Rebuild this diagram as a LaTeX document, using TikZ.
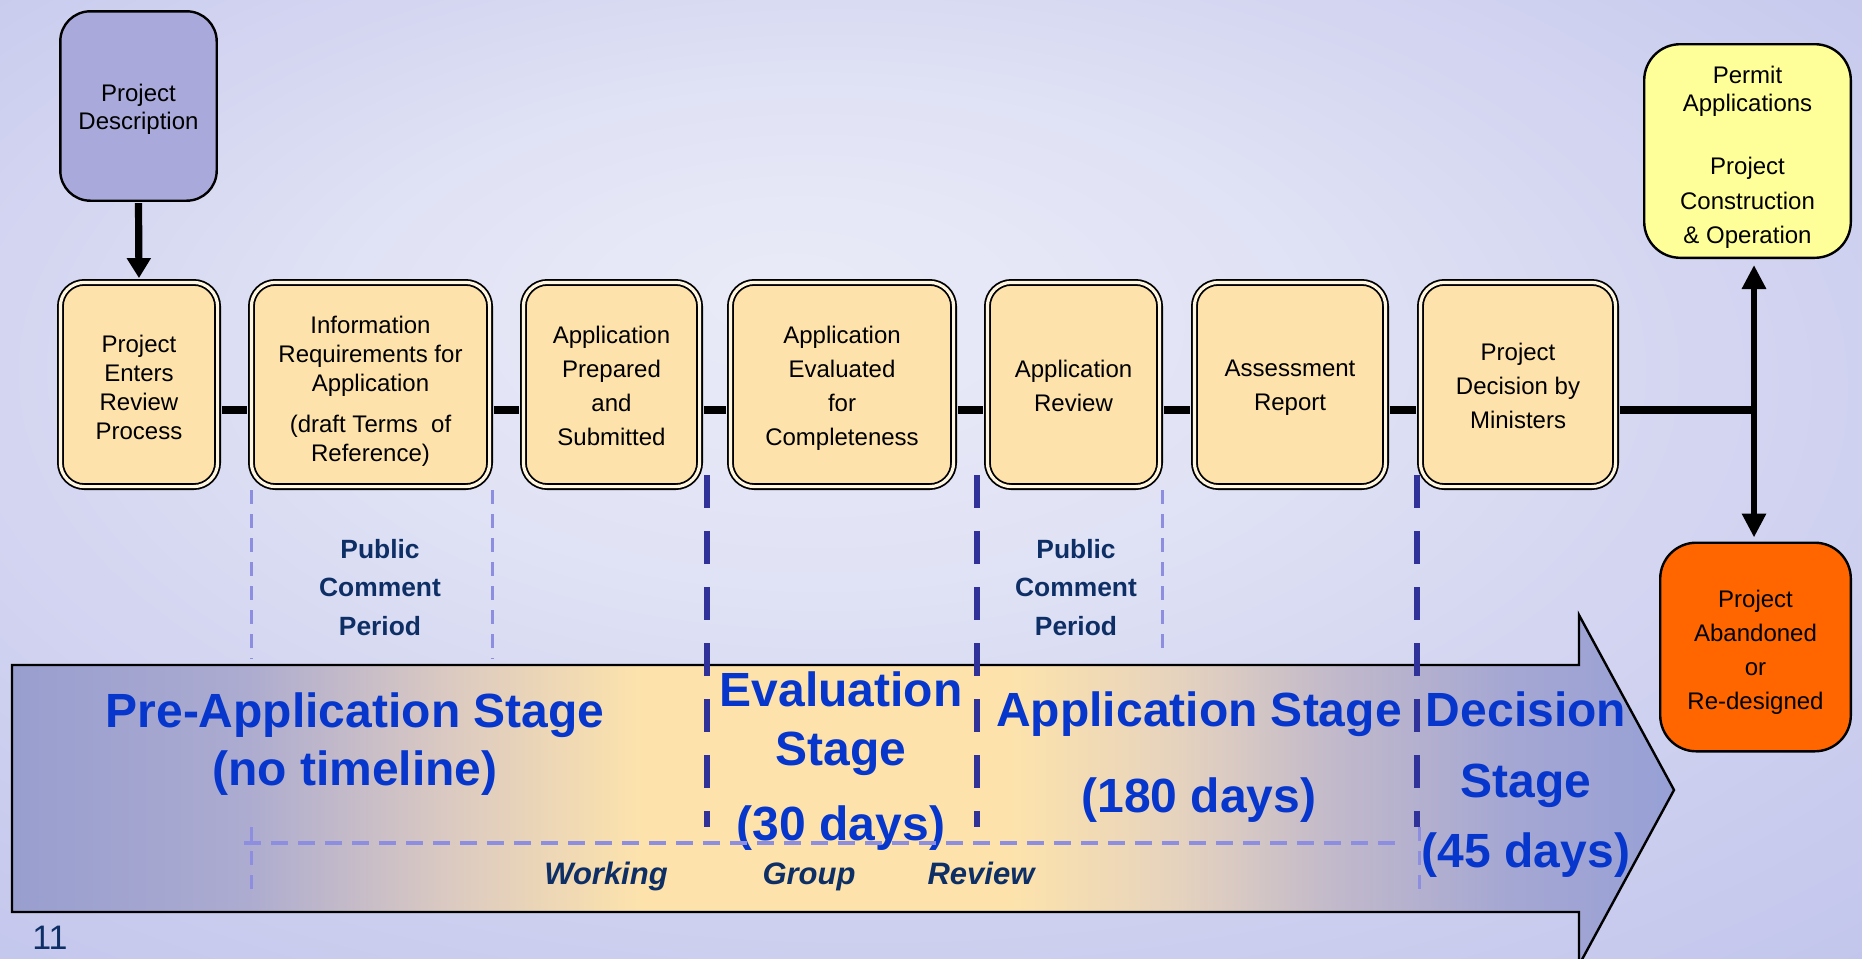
\documentclass[tikz,border=0pt]{standalone}
\usepackage{fontspec}
\setmainfont{Liberation Sans}
\usetikzlibrary{arrows.meta}

% slide background
\definecolor{bgA}{HTML}{EAEBF8}
\definecolor{bgB}{HTML}{E1E3F5}
\definecolor{bgC}{HTML}{D0D2F0}
\definecolor{bgD}{HTML}{C3C6EC}
% stage bar
\definecolor{barL}{HTML}{989ECF}
\definecolor{barB}{HTML}{ACABD0}
\definecolor{barC}{HTML}{DAC9C2}
\definecolor{peach}{HTML}{FDE3AB}
\definecolor{barD}{HTML}{E6D3BE}
\definecolor{barE}{HTML}{C0B8CB}
\definecolor{barF}{HTML}{A5A7D3}
\definecolor{barR}{HTML}{97A0D5}
% boxes and text
\definecolor{cream}{HTML}{FFF6E0}
\definecolor{descfill}{HTML}{A9AADB}
\definecolor{permitfill}{HTML}{FFFF99}
\definecolor{dropfill}{HTML}{FF6600}
\definecolor{stageblue}{HTML}{0636CC}
\definecolor{navytext}{HTML}{0E2F66}
\definecolor{navydash}{HTML}{31319A}
\definecolor{lightdash}{HTML}{8E8EE0}

\pgfdeclareradialshading{slidebg}{\pgfpoint{-4bp}{10bp}}{%
  color(0bp)=(bgA); color(12bp)=(bgB); color(26bp)=(bgC); color(38bp)=(bgD); color(50bp)=(bgD)}
\pgfdeclarehorizontalshading{stagebar}{100bp}{%
  color(0bp)=(barL); color(25bp)=(barL); color(32bp)=(barB); color(38bp)=(barC);
  color(44bp)=(peach); color(55bp)=(peach); color(60bp)=(barD); color(65bp)=(barE);
  color(70bp)=(barF); color(75bp)=(barR); color(100bp)=(barR)}

% strut that lowers a centred block of lines inside its box
\newcommand\droptext[1]{\rule{0pt}{#1}}

\begin{document}
\begin{tikzpicture}[x=0.5pt,y=-0.5pt,
  stepbox/.style={draw=black, line width=0.9pt, double=cream, double distance=1.6pt,
    fill=peach, rounded corners=12pt, inner sep=0pt, align=center,
    minimum height=102.1pt, font=\fontsize{12}{17}\selectfont},
  endbox/.style={draw=black, line width=1.2pt, rounded corners=18pt, inner sep=0pt,
    align=center, font=\fontsize{12}{14.3}\selectfont},
  flow/.style={draw=black, line width=3.6pt},
  flowtip/.style={-{Triangle[length=10pt,width=11.5pt]}},
  phase/.style={draw=navydash, line width=3pt, dash pattern=on 16.5pt off 11.5pt},
  comment/.style={draw=lightdash, line width=1.5pt, dash pattern=on 7pt off 5pt},
  stagetext/.style={text=stageblue, align=center, inner sep=0pt},
  notetext/.style={text=navytext, align=center, inner sep=0pt,
    font=\fontsize{13.2}{19.25}\selectfont\bfseries},
  grouptext/.style={text=navytext, inner sep=0pt, anchor=base,
    font=\fontsize{15.5}{18}\selectfont\bfseries\itshape}
]
\useasboundingbox (0,0) rectangle (1862,958);
\clip (0,0) rectangle (1862,958);

% background
\shade[shading=slidebg] (0,0) rectangle (1862,958);

% stage bar arrow
\shadedraw[shading=stagebar, draw=black, line width=1.2pt]
  (12,665) -- (1579,665) -- (1579,615) -- (1674,790) -- (1579,965)
  -- (1579,912) -- (12,912) -- cycle;

% stage boundaries
\draw[phase] (707,475) -- (707,827);
\draw[phase] (977,475) -- (977,827);
\draw[phase] (1417,475) -- (1417,827);

% public comment periods and working group span
\draw[comment] (251,490) -- (251,659);
\draw[comment] (492,490) -- (492,659);
\draw[comment] (1162,490) -- (1162,651);
\draw[comment] (251,827) -- (251,890);
\draw[comment] (1419,827) -- (1419,890);

% process boxes
\node[endbox, fill=descfill, rounded corners=15pt, minimum width=78.2pt, minimum height=94.7pt]
  (desc) at (138.5,106) {\droptext{11.8pt}Project\\Description};
\node[stepbox, minimum width=78.6pt, font=\fontsize{12}{14.5}\selectfont]
  (b1) at (139,384.5) {\droptext{11.2pt}Project\\Enters\\Review\\Process};
\node[stepbox, minimum width=119.1pt, font=\fontsize{12}{14.5}\selectfont]
  (b2) at (370.5,384.5) {\droptext{15.8pt}Information\\Requirements for\\Application\\[6pt](draft Terms~ of\\Reference)};
\node[stepbox, minimum width=88.1pt] (b3) at (611.5,384.5) {\droptext{9.8pt}Application\\Prepared\\and\\Submitted};
\node[stepbox, minimum width=111.6pt] (b4) at (842,384.5) {\droptext{12.4pt}Application\\Evaluated\\for\\Completeness};
\node[stepbox, minimum width=86.1pt] (b5) at (1073.5,384.5) {\droptext{9.8pt}Application\\Review};
\node[stepbox, minimum width=95.6pt] (b6) at (1290,384.5) {\droptext{11.8pt}Assessment\\Report};
\node[stepbox, minimum width=97.6pt] (b7) at (1518,384.5) {\droptext{10.4pt}Project\\Decision by\\Ministers};

\node[endbox, fill=permitfill, minimum width=103.3pt, minimum height=106.8pt]
  (permit) at (1747.5,151) {\droptext{14.8pt}Permit\\Applications\\[17.2pt]Project\\[2.9pt]Construction\\[2.9pt]\& Operation};
\node[endbox, fill=dropfill, minimum width=95.3pt, minimum height=104.3pt,
  font=\fontsize{12}{17}\selectfont]
  (orange) at (1755.5,647) {\droptext{14.2pt}Project\\Abandoned\\or\\Re-designed};

\coordinate (junction) at (1754,410);

% connectors
\draw[flow, flowtip, shorten <=0.6pt, shorten >=1.7pt] (desc.south) -- (b1.north);
\foreach \a/\b in {b1/b2,b2/b3,b3/b4,b4/b5,b5/b6,b6/b7}
  \draw[flow, shorten <=1.7pt, shorten >=1.7pt]
    ([yshift=-12.75pt]\a.east) -- ([yshift=-12.75pt]\b.west);
\draw[flow, shorten <=1.7pt] ([yshift=-12.75pt]b7.east) -- (junction);
\draw[flow, line width=3.4pt,
  {Triangle[length=12pt,width=11.5pt]}-{Triangle[length=12pt,width=11.5pt]},
  shorten <=3pt, shorten >=2pt]
  (junction |- permit.south) -- (junction |- orange.north);

% labels
\node[notetext] (pc1) at (380,587.5) {Public\\Comment\\Period};
\node[notetext] (pc2) at (1076,587.5) {Public\\Comment\\Period};

\node[stagetext, font=\fontsize{24}{29}\selectfont\bfseries]
  (spre) at (355,744) {Pre-Application Stage\\(no timeline)};
\node[stagetext, font=\fontsize{24}{29.5}\selectfont\bfseries]
  (seval) at (841,761) {Evaluation\\Stage\\[8pt](30 days)};
\node[stagetext, font=\fontsize{24}{43}\selectfont\bfseries]
  (sapp) at (1199,757) {Application Stage\\(180 days)};
\node[stagetext, font=\fontsize{24}{35.25}\selectfont\bfseries]
  (sdec) at (1526,785) {Decision\\Stage\\(45 days)};

\node[grouptext] (wg1) at (606,884) {Working};
\node[grouptext] (wg2) at (809,884) {Group};
\node[grouptext] (wg3) at (981,884) {Review};

\draw[draw=lightdash, line width=2pt, dash pattern=on 8.5pt off 5pt] (244,843) -- (1395,843);

\node[text=navytext, font=\fontsize{17}{20}\selectfont, inner sep=0pt] (pnum) at (50,938) {11};
\end{tikzpicture}
\end{document}
